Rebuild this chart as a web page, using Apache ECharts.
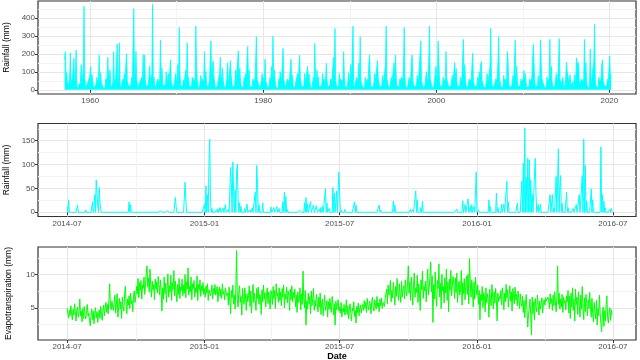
<!DOCTYPE html>
<html>
<head>
<meta charset="utf-8">
<script src="https://cdn.jsdelivr.net/npm/echarts@6/dist/echarts.min.js"></script>
<style>
  html, body { margin: 0; padding: 0; background: #fff; }
  #chart { width: 640px; height: 360px; }
</style>
</head>
<body>
<div id="chart"></div>
<script>
// TOP PANEL: monthly rainfall (mm), one row per year, Jan..Dec
const rainFirstYear = 1957;
const rainYears = [
  [170,212,45,95,40,12,8,60,205,25,55,70],
  [60,175,50,70,220,20,10,6,35,20,40,140],
  [80,45,120,464,60,30,15,8,12,50,40,75],
  [130,60,85,50,20,8,12,25,40,70,35,55],
  [193,40,95,40,35,15,10,8,6,60,45,75],
  [180,60,50,110,30,12,20,40,212,35,50,65],
  [70,254,60,45,261,25,10,20,15,60,40,90],
  [60,140,200,45,50,20,15,30,25,70,40,45],
  [451,60,90,212,60,25,12,8,20,50,40,70],
  [50,195,60,193,55,20,15,10,25,70,130,50],
  [80,60,475,50,70,25,10,8,20,60,40,40],
  [60,276,45,120,40,20,12,18,30,100,40,65],
  [90,50,60,166,40,25,15,10,35,60,90,45],
  [60,140,45,346,90,30,12,8,30,55,40,80],
  [110,50,261,50,70,20,10,25,15,70,45,60],
  [50,45,354,140,50,20,12,8,6,80,40,60],
  [70,45,212,60,100,30,20,10,20,50,60,272],
  [60,50,160,80,40,15,10,6,15,50,40,90],
  [180,50,70,120,50,20,12,8,6,60,150,45],
  [60,55,162,80,45,12,6,20,25,110,50,40],
  [60,217,60,120,45,20,12,8,20,70,50,90],
  [70,60,240,50,110,15,10,25,15,60,40,50],
  [60,160,295,60,70,30,20,10,20,50,90,45],
  [70,50,170,50,60,20,10,6,15,70,40,130],
  [60,298,60,110,50,15,12,8,6,60,40,100],
  [70,50,140,230,60,30,12,8,20,60,45,45],
  [60,50,170,50,80,20,12,6,15,50,40,90],
  [45,50,192,60,40,12,10,20,25,90,45,70],
  [60,130,50,90,45,20,12,8,15,70,45,258],
  [80,45,110,50,70,15,6,10,20,40,90,40],
  [60,45,60,147,50,15,10,15,25,60,40,70],
  [60,180,60,341,50,25,12,20,25,90,45,60],
  [70,50,45,212,70,20,12,8,20,50,95,45],
  [60,140,50,60,354,30,12,8,20,70,45,60],
  [150,60,295,50,50,20,12,8,20,70,40,45],
  [60,45,150,193,60,15,10,6,15,40,90,50],
  [60,50,162,60,40,12,8,20,25,80,45,60],
  [70,140,354,60,45,20,12,8,15,70,40,45],
  [50,150,50,193,60,15,10,15,20,60,45,70],
  [60,50,130,346,70,20,12,8,20,50,70,45],
  [60,160,193,50,45,15,12,6,25,80,45,60],
  [70,60,272,50,40,12,8,20,25,70,100,45],
  [60,150,354,60,45,20,12,8,20,50,45,130],
  [80,60,272,160,50,15,12,8,25,70,45,45],
  [60,212,60,45,40,12,8,20,25,60,80,45],
  [50,151,50,120,45,15,10,6,20,70,45,60],
  [60,280,60,140,50,20,12,8,15,60,45,45],
  [60,50,203,45,40,15,10,15,25,70,45,100],
  [60,140,157,50,45,20,12,8,20,50,90,45],
  [60,50,130,341,70,15,10,15,25,40,60,45],
  [70,150,295,60,45,20,12,8,20,80,45,60],
  [60,45,212,160,40,12,10,6,20,45,80,45],
  [50,276,50,130,45,15,12,8,25,60,40,45],
  [60,107,45,90,40,12,6,10,15,60,45,45],
  [70,60,252,150,45,15,10,15,25,80,45,60],
  [276,140,60,45,50,20,12,8,20,70,45,45],
  [60,280,45,130,50,15,12,8,20,60,90,45],
  [60,150,284,60,45,30,26,68,22,5,31,63],
  [153,105,98,42,31,84,22,15,24,45,5,84],
  [40,65,177,133,153,137,20,15,25,60,45,45],
  [60,280,60,150,45,20,12,8,25,225,45,60],
  [70,60,160,365,50,20,12,8,20,70,45,45],
  [60,140,166,50,45,15,10,15,25,60,45,45],
  [188,60,90]
];

// MIDDLE PANEL: daily rainfall, dry days are 0; events = [day since start, mm]
const dailyStart = '2014-07-01';
const dailyDays = 731;
const rainEvents = [
  [0,12],[2,26],[14,15],[22,4],[25,5],[28,4],[34,22],[36,10],[37,37],[39,68],[40,40],[41,15],[43,52],[44,20],[45,6],
  [83,22],[85,16],[105,3],[125,3],[134,3],[145,31],[146,12],[152,4],[158,63],[159,26],[174,4],
  [184,17],[186,55],[188,37],[190,99],[191,153],[192,30],[194,8],[200,5],[202,8],[204,4],[205,10],[209,9],[212,16],
  [216,6],[219,94],[220,61],[222,105],[223,44],[225,47],[227,82],[228,101],[229,26],[231,20],[233,12],[238,8],[241,17],
  [245,5],[248,9],[252,42],[254,98],[255,58],[257,16],[262,20],[273,11],[277,10],[281,12],[284,8],[289,22],[291,42],
  [293,33],[295,6],[311,4],[318,20],[320,31],[322,17],[326,22],[330,15],[334,14],[338,7],[340,10],[342,12],
  [346,49],[348,19],[351,8],[356,52],[358,40],[361,44],[364,84],[365,42],[367,5],[369,4],[372,6],
  [385,22],[387,15],[392,4],[418,15],[420,5],[437,24],[439,15],[445,4],[460,6],[463,5],[467,45],[469,26],[474,10],[476,23],
  [490,4],[505,4],[512,4],[522,7],[530,24],[533,16],[537,28],[540,12],[542,16],[545,12],[548,84],[551,5],
  [565,26],[567,12],[575,40],[577,10],[582,17],[585,17],[589,65],[591,22],[603,19],
  [609,65],[611,103],[613,177],[615,72],[617,113],[619,110],[621,68],[623,37],[627,113],[628,40],[631,16],[634,17],
  [647,37],[650,37],[652,8],[655,75],[658,133],[660,54],[661,77],[663,19],[669,42],[671,10],[678,8],[682,16],
  [686,37],[690,77],[692,153],[694,98],[696,24],[702,49],[704,26],[715,137],[717,37],[719,23],[721,9],[727,6],[729,8]
];

// BOTTOM PANEL: daily evapotranspiration (mm), one row per month
const etMonths = ['2014-07','2014-08','2014-09','2014-10','2014-11','2014-12',
  '2015-01','2015-02','2015-03','2015-04','2015-05','2015-06',
  '2015-07','2015-08','2015-09','2015-10','2015-11','2015-12',
  '2016-01','2016-02','2016-03','2016-04','2016-05','2016-06'];
const etValues = [
  [4.9,4.2,3.5,4.6,3.8,5.3,4.1,3.2,4.8,3.9,5.6,4.4,3.0,4.7,5.1,3.6,4.3,6.3,3.8,4.5,2.9,4.9,3.4,5.2,4.0,3.3,4.6,5.5,3.7,4.2,3.1],
  [2.3,3.9,4.8,3.2,4.5,2.6,4.1,5.0,3.5,4.4,2.8,3.9,4.7,3.4,5.2,4.0,3.1,4.6,5.4,3.8,4.9,5.8,4.3,5.5,4.1,6.2,8.6,5.3,4.7,6.0,5.1],
  [4.6,5.8,6.9,4.2,5.5,7.1,3.6,5.0,6.4,4.8,5.9,3.4,6.6,5.2,4.5,7.0,8.2,5.7,4.1,6.3,5.4,6.8,4.9,7.2,5.6,6.1,4.4,6.9,7.5,5.8],
  [6.8,8.2,7.1,9.4,6.5,8.8,7.6,9.1,6.3,8.4,7.9,9.6,7.0,8.6,10.2,11.3,8.1,9.5,7.4,10.8,8.3,6.6,9.0,7.7,8.5,6.2,9.3,7.8,8.9,7.2,9.7],
  [8.4,6.9,9.2,7.5,4.5,8.0,6.3,9.6,7.1,8.7,5.8,7.9,10.1,6.6,8.3,7.4,9.9,6.1,8.8,7.7,10.6,6.8,9.0,7.3,5.9,8.5,7.0,9.4,6.4,8.1],
  [7.6,9.3,6.8,8.4,7.2,10.0,6.5,8.9,7.8,11.0,6.9,8.2,7.4,9.6,6.2,8.6,7.9,9.1,6.6,8.0,7.3,9.8,6.1,8.5,7.7,9.2,6.7,8.3,7.5,8.8,7.0],
  [7.9,6.6,8.3,7.2,8.6,6.1,7.7,8.0,6.8,7.5,8.4,6.3,7.9,7.1,8.5,6.9,7.6,8.2,5.9,7.4,8.1,6.7,7.8,6.4,8.6,7.0,7.5,6.2,8.0,7.3,6.8],
  [7.2,5.4,8.1,6.0,4.1,7.6,6.5,8.4,5.6,6.9,4.8,7.8,13.6,6.2,5.1,7.4,8.3,5.8,6.7,3.9,7.9,6.3,5.5,8.0,6.6,4.6,7.1,5.9],
  [6.8,8.3,5.2,7.5,4.2,6.9,8.5,5.8,7.2,6.1,4.6,7.9,6.4,8.1,5.5,7.0,6.6,4.0,7.7,5.9,8.4,6.3,7.3,5.1,6.8,8.0,5.6,7.4,6.2,4.8,7.6],
  [7.0,5.5,8.2,6.4,7.6,4.9,8.6,6.8,7.2,5.8,8.0,6.1,7.4,5.3,7.9,6.6,8.4,5.0,7.1,6.3,8.1,5.7,7.5,6.9,4.6,7.8,6.2,8.3,5.9,7.3],
  [6.5,7.8,5.1,6.9,4.3,7.4,5.8,6.2,8.0,4.7,7.1,5.5,10.5,6.3,5.0,7.6,2.4,6.0,4.8,7.2,5.6,6.7,4.1,7.5,5.3,6.4,7.9,4.6,6.1,5.2,7.0],
  [5.8,4.4,6.6,5.1,7.2,4.0,5.7,6.3,3.8,5.5,6.9,4.6,5.2,6.1,3.6,5.9,4.8,6.4,5.0,4.3,6.7,5.4,3.9,5.6,2.4,6.0,4.7,5.3,6.2,4.5],
  [5.1,4.2,5.8,3.6,4.9,4.4,5.5,3.9,4.7,6.2,4.0,5.3,3.3,4.8,5.6,4.1,3.0,5.0,4.5,5.9,3.7,4.6,2.7,5.2,4.3,5.7,3.8,4.9,5.4,4.2,5.1],
  [5.5,4.6,6.1,4.9,5.8,4.3,6.4,5.2,4.7,6.0,5.6,4.1,5.9,6.6,5.0,4.5,6.2,5.4,4.8,6.7,5.1,5.7,4.4,6.3,5.3,6.5,4.9,5.8,6.0,5.2,6.4],
  [6.2,7.8,5.6,8.4,6.9,7.3,9.1,5.9,7.6,6.5,8.8,7.0,5.4,8.2,6.7,9.4,7.4,6.1,8.6,7.1,5.8,9.0,6.6,7.9,8.3,6.3,9.2,7.5,6.8,8.7],
  [11.3,7.2,8.9,6.1,9.6,7.8,5.4,8.4,10.2,6.6,8.0,7.3,9.9,5.8,8.6,7.0,4.6,9.2,7.7,10.5,6.4,8.3,7.5,9.0,5.9,8.8,10.8,6.9,8.1,9.5,11.9],
  [7.4,9.8,2.8,8.5,6.3,10.4,7.0,5.2,9.1,7.9,11.6,6.6,8.7,4.9,10.0,7.5,8.2,5.7,9.5,7.2,10.8,6.1,8.9,4.4,9.3,7.6,10.6,6.8,8.4,9.7],
  [8.6,6.4,9.5,7.3,10.2,5.8,8.1,9.0,6.9,7.7,10.6,5.4,8.8,7.1,9.4,6.2,8.3,9.8,7.0,10.0,5.6,12.4,8.7,6.6,9.2,7.5,5.1,8.9,6.3,9.6,7.8],
  [6.9,8.4,5.5,7.6,3.2,7.0,6.1,8.2,5.0,7.3,6.6,4.4,8.0,5.8,7.1,6.3,3.6,7.8,6.0,5.3,8.5,6.5,4.8,7.4,5.7,7.9,6.2,3.0,7.2,5.9,6.7],
  [6.3,7.6,5.4,8.0,6.8,4.7,7.2,5.9,8.5,6.5,7.7,5.1,6.9,8.3,6.0,7.4,4.5,7.9,6.6,5.6,8.1,6.2,7.0,5.3,7.5,6.4,4.9,7.1,5.8],
  [5.2,6.8,4.3,6.1,3.5,5.7,7.0,4.6,2.1,4.0,4.9,6.3,3.8,0.9,6.6,4.1,5.9,3.2,6.4,5.0,4.4,6.9,5.3,3.9,6.0,4.8,5.6,6.5,4.2,5.8,6.2],
  [5.4,6.5,6.0,5.8,6.6,6.2,4.9,7.1,5.6,6.4,4.6,6.9,5.3,7.4,6.0,4.4,6.7,11.3,5.5,7.2,4.8,6.3,5.1,7.0,4.3,6.6,5.7,6.1,4.7,6.8],
  [5.9,7.6,4.2,6.8,3.4,7.2,5.1,8.0,4.6,6.3,3.0,7.8,5.5,6.6,4.0,7.4,5.3,3.6,6.9,4.8,8.2,5.0,3.2,6.5,4.4,7.0,5.7,3.8,6.2,4.9,7.3],
  [5.2,3.6,6.4,4.1,2.9,5.8,4.5,3.3,6.1,2.4,4.9,3.8,6.9,4.2,2.6,1.4,3.9,5.1,2.2,4.6,3.0,5.5,6.8,3.4,2.7,4.3,5.0,3.1,4.7,3.9]
];

// AXIS BREAKS
const yearTicks = [1960, 1980, 2000, 2020];
const yearMinor = [1950, 1970, 1990, 2010];
const dateTicks = ['2014-07-01', '2015-01-01', '2015-07-01', '2016-01-01', '2016-07-01'];
const dateMinor = ['2014-10-01', '2015-04-01', '2015-10-01', '2016-04-01'];
const rainTicks = [0, 100, 200, 300, 400];
const rainMinor = [50, 150, 250, 350, 450];
const dailyRainTicks = [0, 50, 100, 150];
const dailyRainMinor = [25, 75, 125, 175];
const etTicks = [5, 10];
const etMinor = [2.5, 7.5, 12.5];


const DAY = 86400000;
const toMs = (s) => { const [y, m, d] = s.split('-').map(Number); return Date.UTC(y, m - 1, d || 1); };

const topData = [];
rainYears.forEach((row, i) => row.forEach((v, m) => topData.push([rainFirstYear + i + (m + 0.5) / 12, v])));

const dailyRain = new Array(dailyDays).fill(0);
rainEvents.forEach(([d, v]) => { dailyRain[d] = v; });
const t0 = toMs(dailyStart);
const midData = dailyRain.map((v, d) => [t0 + d * DAY, v]);

const etData = [];
etMonths.forEach((mo, i) => {
  const base = toMs(mo);
  etValues[i].forEach((v, d) => etData.push([base + d * DAY, v]));
});

const FONT = 'Liberation Sans, Arial, sans-serif';
const dateLabel = (v) => new Date(v).toISOString().slice(0, 7);

function majorAxis(grid, min, max, ticks, fmt, extra){
  return Object.assign({
    type: 'value', gridIndex: grid, min, max,
    axisLine: {show: false},
    axisTick: {show: true, customValues: ticks, length: 3, lineStyle: {color: '#333', width: 1}},
    axisLabel: {show: true, customValues: ticks, formatter: fmt, color: '#4d4d4d', fontSize: 8, fontFamily: FONT, margin: 3},
    splitLine: {show: true, lineStyle: {color: '#e6e6e6', width: 1}},
    minorTick: {show: false}, minorSplitLine: {show: false}
  }, extra || {});
}

function minorAxis(grid, min, max, ticks){
  return {
    type: 'value', gridIndex: grid, min, max,
    axisLine: {show: false},
    axisTick: {show: false, customValues: ticks},
    axisLabel: {show: false},
    splitLine: {show: true, lineStyle: {color: '#f3f3f3', width: 1}}
  };
}

const yName = (text) => ({
  name: text, nameLocation: 'middle', nameGap: 25,
  nameTextStyle: {color: '#000', fontSize: 8.5, fontFamily: FONT}
});

const grids = [
  {left: 38, right: 4, top: 1, height: 93},
  {left: 38, right: 4, top: 123.5, height: 93},
  {left: 38, right: 4, top: 247, height: 93}
].map(g => Object.assign(g, {
  show: true, borderColor: '#333', borderWidth: 1.2, backgroundColor: 'transparent',
  containLabel: false, outerBoundsMode: 'none'
}));

const dMin = toMs('2014-05-23'), dMax = toMs('2016-08-01');
const ms = (arr) => arr.map(toMs);

const chart = echarts.init(document.getElementById('chart'), null, {renderer: 'canvas'});
chart.setOption({
  animation: false,
  backgroundColor: '#fff',
  grid: grids,
  xAxis: [
    majorAxis(0, 1953.97, 2023.08, yearTicks, (v) => String(Math.round(v))),
    minorAxis(0, 1953.97, 2023.08, yearMinor),
    majorAxis(1, dMin, dMax, ms(dateTicks), dateLabel),
    minorAxis(1, dMin, dMax, ms(dateMinor)),
    majorAxis(2, dMin, dMax, ms(dateTicks), dateLabel, {
      name: 'Date', nameLocation: 'middle', nameGap: 12,
      nameTextStyle: {color: '#000', fontSize: 9, fontWeight: 'bold', fontFamily: FONT}
    }),
    minorAxis(2, dMin, dMax, ms(dateMinor))
  ],
  yAxis: [
    majorAxis(0, -23.5, 493.5, rainTicks, (v) => String(v), yName('Rainfall (mm)')),
    minorAxis(0, -23.5, 493.5, rainMinor),
    majorAxis(1, -8.85, 186, dailyRainTicks, (v) => String(v), yName('Rainfall (mm)')),
    minorAxis(1, -8.85, 186, dailyRainMinor),
    majorAxis(2, 0.15, 14.14, etTicks, (v) => String(v), yName('Evapotranspiration (mm)')),
    minorAxis(2, 0.15, 14.14, etMinor)
  ],
  series: [
    {
      type: 'line', xAxisIndex: 0, yAxisIndex: 0, data: topData, symbol: 'none', silent: true,
      lineStyle: {color: '#00ffff', width: 0.8}, areaStyle: {color: '#00ffff', opacity: 1}
    },
    {
      type: 'line', xAxisIndex: 2, yAxisIndex: 2, data: midData, symbol: 'none', silent: true,
      lineStyle: {color: '#00ffff', width: 1}
    },
    {
      type: 'line', xAxisIndex: 4, yAxisIndex: 4, data: etData, symbol: 'none', silent: true,
      lineStyle: {color: '#00ff00', width: 1}
    }
  ]
});
</script>
</body>
</html>
